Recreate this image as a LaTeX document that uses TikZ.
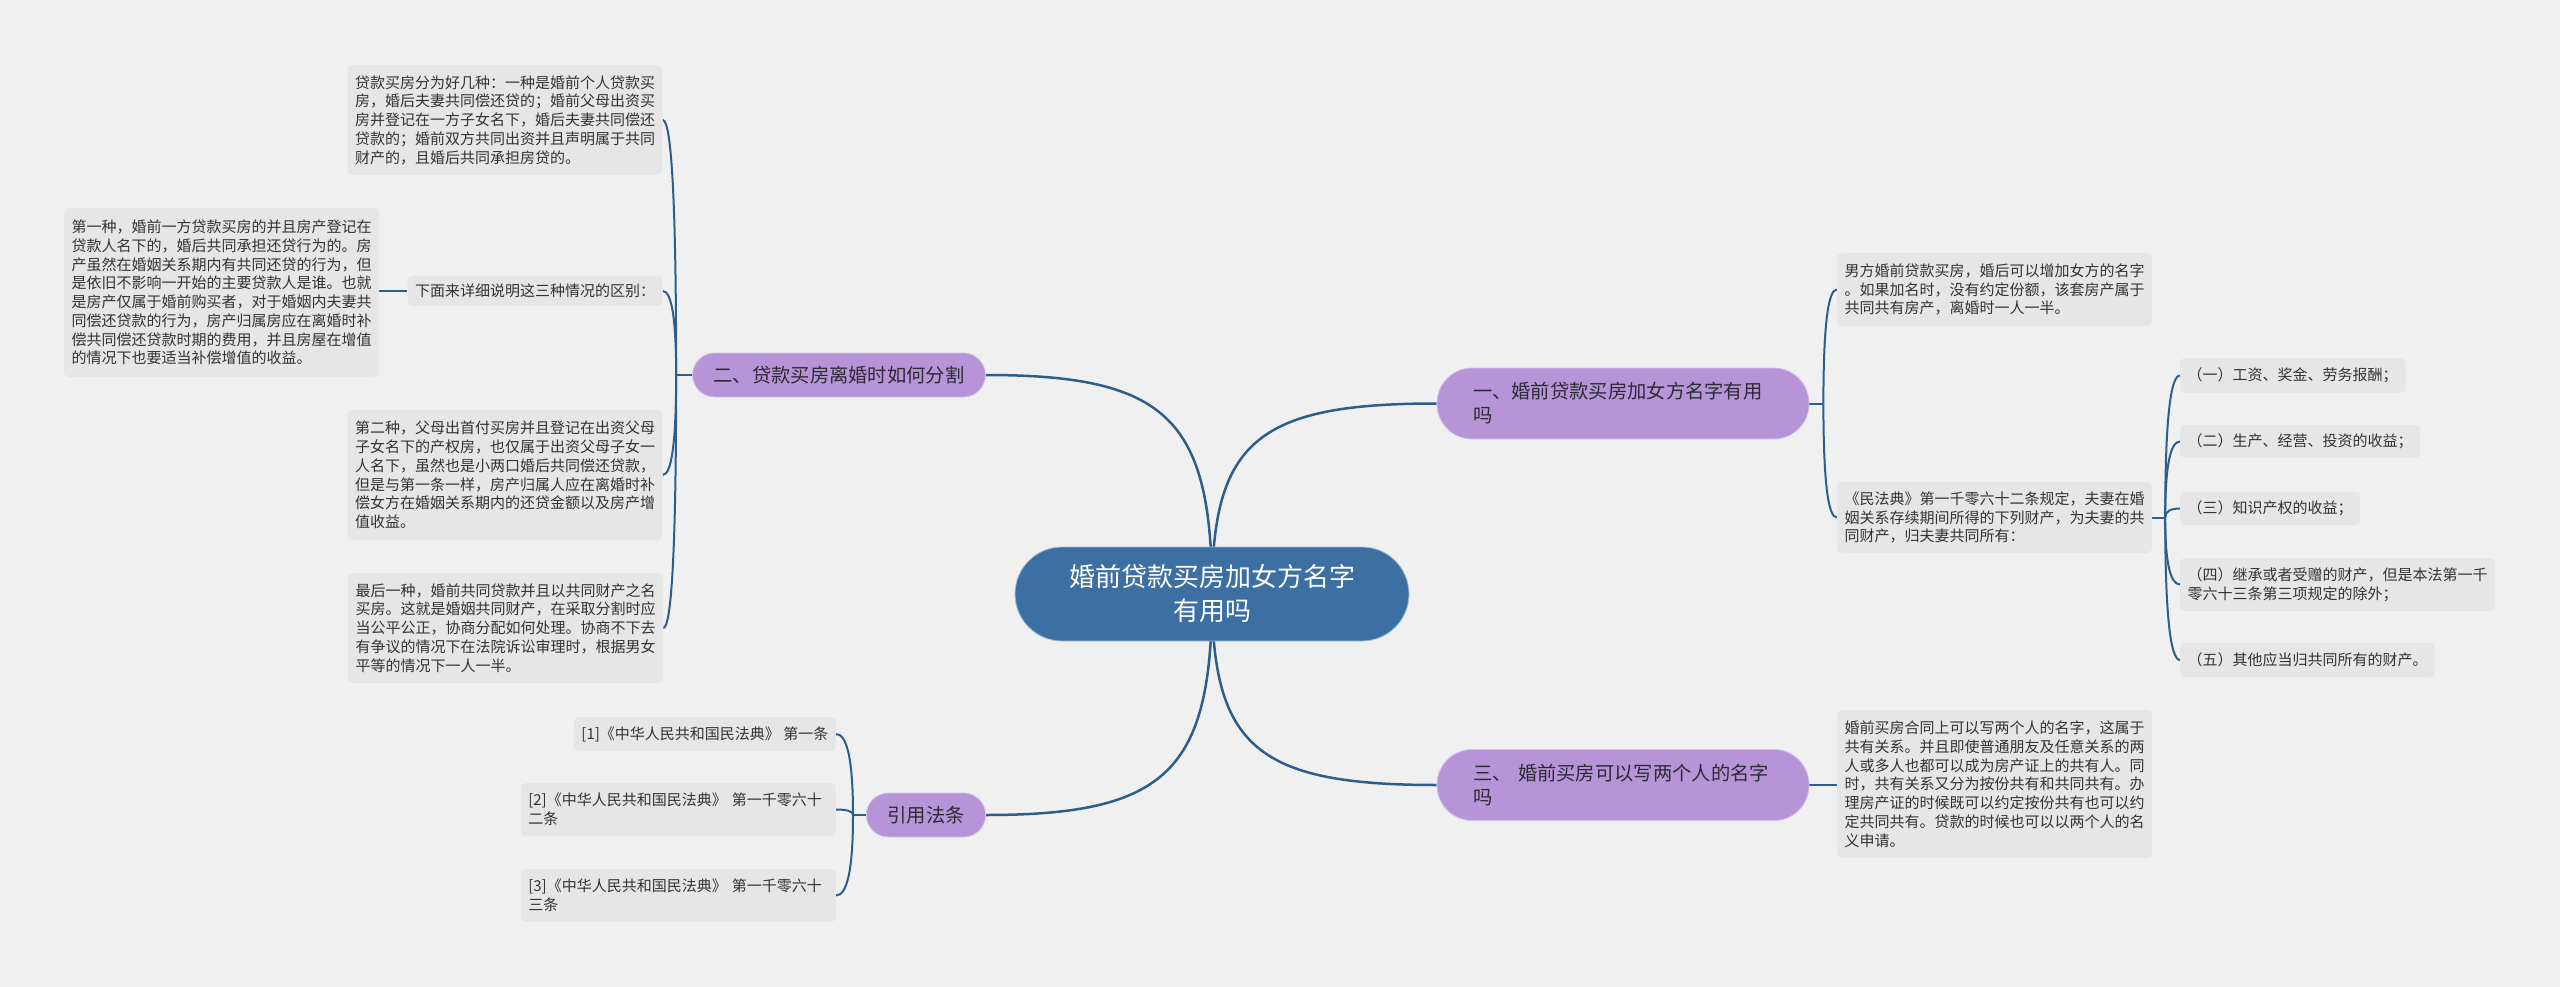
\documentclass[tikz,border=0pt]{standalone}
\usepackage{fontspec}
\setmainfont{Noto Sans CJK SC}
\usetikzlibrary{calc}
\definecolor{bgc}{HTML}{F0F0F0}
\definecolor{leaffill}{HTML}{E6E6E6}
\definecolor{leaftext}{HTML}{333333}
\definecolor{purp}{HTML}{B794D8}
\definecolor{purpedge}{HTML}{D4C2EA}
\definecolor{btext}{HTML}{2B2B33}
\definecolor{cfill}{HTML}{3D70A2}
\definecolor{cedge}{HTML}{A3BDD6}
\definecolor{linecol}{HTML}{2D5E8B}
\pgfdeclarelayer{back}
\pgfdeclarelayer{lines}
\pgfsetlayers{back,lines,main}
\begin{document}
\begin{tikzpicture}[x=1pt,y=-1pt,
  leaf/.style={fill=leaffill, rounded corners=5pt, inner xsep=7.5pt, inner ysep=0pt,
    font=\fontsize{15}{18.75}\selectfont, text=leaftext, align=left},
  pleaf/.style={leaf, text width=300pt},
  branch/.style={fill=purp, draw=purpedge, line width=0.8pt,
    font=\fontsize{19.3}{24}\selectfont, text=btext, inner ysep=0pt},
  sbranch/.style={branch, inner xsep=21pt, minimum height=44pt, rounded corners=22pt},
  wbranch/.style={branch, inner xsep=0pt, minimum width=372pt, minimum height=71pt,
    rounded corners=35pt, text width=300pt, align=left},
  centre/.style={fill=cfill, draw=cedge, line width=0.8pt, text=white,
    font=\fontsize{26}{34}\selectfont, align=center, inner xsep=0pt, inner ysep=0pt,
    minimum width=394pt, minimum height=94pt, rounded corners=47pt},
  link/.style={draw=linecol, line width=2pt},
  mainlink/.style={draw=linecol, line width=2.5pt}
]
\begin{pgfonlayer}{back}
\fill[bgc] (0,0) rectangle (2560,987);
\end{pgfonlayer}
\useasboundingbox (0,0) rectangle (2560,987);

% centre
\node[centre] (c) at (1212,594) {婚前贷款买房加女方名字\\有用吗};

% branches
\node[wbranch] (b1) at (1623,403.5) {一、婚前贷款买房加女方名字有用\\吗};
\node[sbranch] (b2) at (839,375) {二、贷款买房离婚时如何分割};
\node[wbranch] (b3) at (1623,785) {三、 婚前买房可以写两个人的名字\\吗};
\node[sbranch] (b4) at (926,815) {引用法条};

% branch 2 leaves
\node[pleaf, minimum height=110pt] (l1) at (505,120) {贷款买房分为好几种：一种是婚前个人贷款买\\房，婚后夫妻共同偿还贷的；婚前父母出资买\\房并登记在一方子女名下，婚后夫妻共同偿还\\贷款的；婚前双方共同出资并且声明属于共同\\财产的，且婚后共同承担房贷的。};
\node[leaf, minimum height=30pt] (xia) at (535,291) {下面来详细说明这三种情况的区别：};
\node[pleaf, minimum height=169pt] (f1) at (221.5,292.5) {第一种，婚前一方贷款买房的并且房产登记在\\贷款人名下的，婚后共同承担还贷行为的。房\\产虽然在婚姻关系期内有共同还贷的行为，但\\是依旧不影响一开始的主要贷款人是谁。也就\\是房产仅属于婚前购买者，对于婚姻内夫妻共\\同偿还贷款的行为，房产归属房应在离婚时补\\偿共同偿还贷款时期的费用，并且房屋在增值\\的情况下也要适当补偿增值的收益。};
\node[pleaf, minimum height=130pt] (l2) at (505,475) {第二种，父母出首付买房并且登记在出资父母\\子女名下的产权房，也仅属于出资父母子女一\\人名下，虽然也是小两口婚后共同偿还贷款，\\但是与第一条一样，房产归属人应在离婚时补\\偿女方在婚姻关系期内的还贷金额以及房产增\\值收益。};
\node[pleaf, minimum height=110pt] (l3) at (505.5,628) {最后一种，婚前共同贷款并且以共同财产之名\\买房。这就是婚姻共同财产，在采取分割时应\\当公平公正，协商分配如何处理。协商不下去\\有争议的情况下在法院诉讼审理时，根据男女\\平等的情况下一人一半。};

% branch 1 leaves
\node[pleaf, minimum height=73pt] (nf) at (1994.5,289.5) {男方婚前贷款买房，婚后可以增加女方的名字\\。如果加名时，没有约定份额，该套房产属于\\共同共有房产，离婚时一人一半。};
\node[pleaf, minimum height=71pt] (mf) at (1994.5,517.5) {《民法典》第一千零六十二条规定，夫妻在婚\\姻关系存续期间所得的下列财产，为夫妻的共\\同财产，归夫妻共同所有：};
\node[leaf, minimum height=35pt, anchor=west] (s1) at (2180,375.5) {（一）工资、奖金、劳务报酬；};
\node[leaf, minimum height=33pt, anchor=west] (s2) at (2180,441.5) {（二）生产、经营、投资的收益；};
\node[leaf, minimum height=33pt, anchor=west] (s3) at (2180,508.5) {（三）知识产权的收益；};
\node[pleaf, minimum height=53pt, anchor=west] (s4) at (2180,584.5) {（四）继承或者受赠的财产，但是本法第一千\\零六十三条第三项规定的除外；};
\node[leaf, minimum height=34pt, anchor=west] (s5) at (2180,660) {（五）其他应当归共同所有的财产。};

% branch 3 leaf
\node[pleaf, minimum height=148pt] (hq) at (1994.5,784) {婚前买房合同上可以写两个人的名字，这属于\\共有关系。并且即使普通朋友及任意关系的两\\人或多人也都可以成为房产证上的共有人。同\\时，共有关系又分为按份共有和共同共有。办\\理房产证的时候既可以约定按份共有也可以约\\定共同共有。贷款的时候也可以以两个人的名\\义申请。};

% branch 4 leaves
\node[leaf, minimum height=34pt, anchor=east] (r1) at (836,734) {[1]《中华人民共和国民法典》 第一条};
\node[pleaf, minimum height=53pt, anchor=east] (r2) at (836,809.5) {[2]《中华人民共和国民法典》 第一千零六十\\二条};
\node[pleaf, minimum height=53pt, anchor=east] (r3) at (836,895.5) {[3]《中华人民共和国民法典》 第一千零六十\\三条};

\begin{pgfonlayer}{lines}
% centre to branches
\foreach \b/\a in {b1/west, b2/east, b3/west, b4/east} {
  \coordinate (k) at (c.center |- \b.\a);
  \draw[mainlink] (c.center) .. controls ($(c.center)!0.8!(k)$) and ($(\b.\a)!0.8!(k)$) .. (\b.\a);
}
% branch 2
\coordinate (b2s) at ($(b2.west)+(-16,0)$);
\draw[link] (b2.west) -- (b2s);
\foreach \ch in {l1,xia,l2,l3} {
  \coordinate (k) at (b2s |- \ch.east);
  \draw[link] (b2s) .. controls ($(b2s)!2/3!(k)$) and ($(\ch.east)!2/3!(k)$) .. (\ch.east);
}
\draw[link] (xia.west) -- (xia.west -| f1.east);
% branch 1
\coordinate (b1s) at ($(b1.east)+(14,0)$);
\draw[link] (b1.east) -- (b1s);
\foreach \ch in {nf,mf} {
  \coordinate (k) at (b1s |- \ch.west);
  \draw[link] (b1s) .. controls ($(b1s)!2/3!(k)$) and ($(\ch.west)!2/3!(k)$) .. (\ch.west);
}
\coordinate (mfs) at ($(mf.east)+(13,0)$);
\draw[link] (mf.east) -- (mfs);
\foreach \ch in {s1,s2,s3,s4,s5} {
  \coordinate (k) at (mfs |- \ch.west);
  \draw[link] (mfs) .. controls ($(mfs)!2/3!(k)$) and ($(\ch.west)!2/3!(k)$) .. (\ch.west);
}
% branch 3
\draw[link] (b3.east) -- (b3.east -| hq.west);
% branch 4
\coordinate (b4s) at ($(b4.west)+(-13,0)$);
\draw[link] (b4.west) -- (b4s);
\foreach \ch in {r1,r2,r3} {
  \coordinate (k) at (b4s |- \ch.east);
  \draw[link] (b4s) .. controls ($(b4s)!2/3!(k)$) and ($(\ch.east)!2/3!(k)$) .. (\ch.east);
}
\end{pgfonlayer}
\end{tikzpicture}
\end{document}
